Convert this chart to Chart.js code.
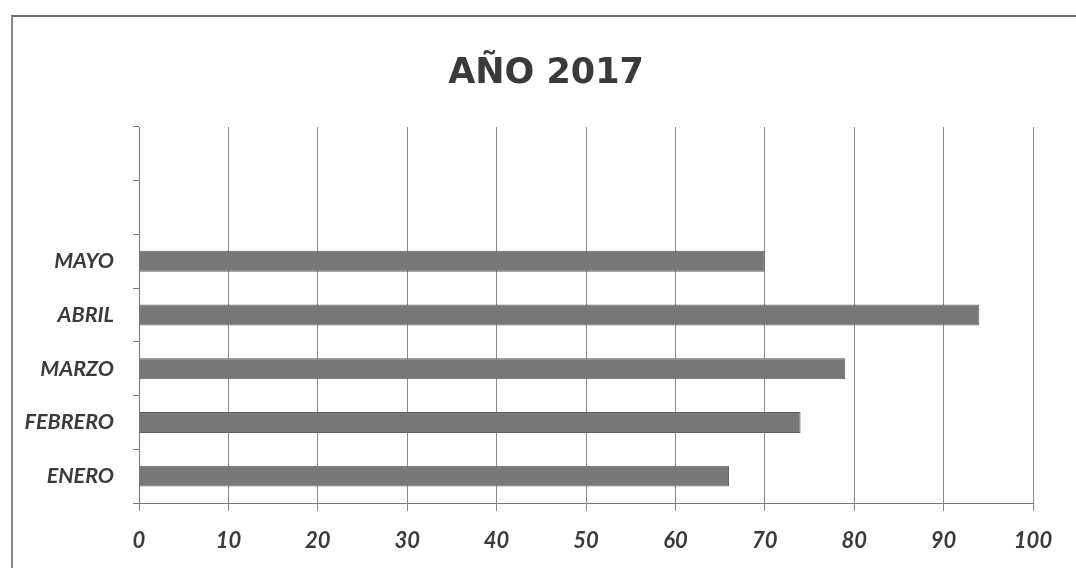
<!DOCTYPE html>
<html>
<head>
<meta charset="utf-8">
<script src="https://cdn.jsdelivr.net/npm/chart.js@4"></script>
<style>
  html, body { margin: 0; padding: 0; background: #fff; }
  #wrap { position: relative; width: 1076px; height: 568px; overflow: hidden; }
  #frame { position: absolute; left: 11px; top: 15px; width: 1100px; height: 600px;
           border-top: 2px solid #6e6e6e; border-left: 2px solid #8a8a8a; }
  canvas { position: absolute; left: 0; top: 0; }
</style>
</head>
<body>
<div id="wrap">
  <div id="frame"></div>
  <canvas id="c" width="1076" height="568"></canvas>
</div>
<script>
const chartTitle = 'AÑO 2017';
const months = ['ENERO', 'FEBRERO', 'MARZO', 'ABRIL', 'MAYO', '', ''];
const values = [66, 74, 79, 94, 70, null, null];
const xTicks = [0, 10, 20, 30, 40, 50, 60, 70, 80, 90, 100];

const textColor = '#3a3a3a';
const xTickFont = { family: 'Lato', size: 22, weight: 'bold', style: 'italic' };
const yTickFont = { family: 'Lato', size: 21.5, weight: 'bold', style: 'italic' };

new Chart(document.getElementById('c'), {
  type: 'bar',
  data: {
    labels: months,
    datasets: [{
      data: values,
      backgroundColor: '#787878',
      borderColor: '#606060',
      borderWidth: 1,
      barPercentage: 0.39,
      categoryPercentage: 1
    }]
  },
  options: {
    indexAxis: 'y',
    responsive: false,
    animation: false,
    layout: { padding: { top: 20, right: 0, bottom: 0, left: 16 } },
    plugins: {
      legend: { display: false },
      tooltip: { enabled: false },
      title: {
        display: true,
        text: chartTitle,
        color: '#3a3a3a',
        font: { family: 'DejaVu Sans', size: 35, weight: 'bold', lineHeight: 1.2 },
        padding: { top: 33, bottom: 32 }
      }
    },
    scales: {
      x: {
        min: 0,
        max: 100,
        afterBuildTicks: (s) => { s.ticks = xTicks.map(v => ({ value: v })); },
        afterFit: (s) => { s.height = 65; },
        ticks: { color: textColor, font: xTickFont, padding: 17, maxRotation: 0 },
        grid: { color: '#8a8a8a', lineWidth: 1, tickLength: 8 },
        border: { color: '#777777', width: 1 }
      },
      y: {
        reverse: true,
        afterFit: (s) => { s.width = 123; },
        ticks: { color: textColor, font: yTickFont, padding: 19 },
        grid: { drawOnChartArea: false, offset: true, tickLength: 6, color: '#777777' },
        border: { color: '#777777', width: 1 }
      },
      spacer: {
        type: 'linear',
        position: 'right',
        display: true,
        afterFit: (s) => { s.width = 43; },
        ticks: { display: false },
        grid: { display: false, drawTicks: false },
        border: { display: false }
      }
    }
  }
});
</script>
</body>
</html>
